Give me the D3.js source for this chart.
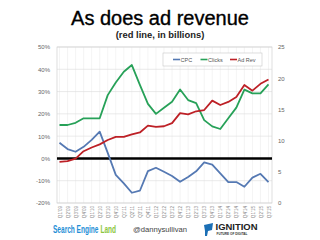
<!DOCTYPE html>
<html><head><meta charset="utf-8">
<script src="https://cdn.jsdelivr.net/npm/d3@7"></script>
<style>html,body{margin:0;padding:0;background:#fff;}svg{display:block;}</style>
</head><body>
<svg id="c" width="320" height="240"></svg>
<script>
const quarters = ["Q1'09","Q2'09","Q3'09","Q4'09","Q1'10","Q2'10","Q3'10","Q4'10","Q1'11","Q2'11","Q3'11","Q4'11","Q1'12","Q2'12","Q3'12","Q4'12","Q1'13","Q2'13","Q3'13","Q4'13","Q1'14","Q2'14","Q3'14","Q4'14","Q1'15","Q2'15","Q3'15"];
const cpc    = [7.0,4.2,3.0,5.2,8.3,12.0,2.5,-7.4,-11.2,-15.4,-14.5,-5.7,-4.2,-6.0,-7.9,-10.5,-8.3,-5.8,-1.8,-2.8,-6.7,-10.6,-10.6,-12.7,-8.6,-6.9,-10.6];
const clicks = [15.0,15.0,16.0,18.0,18.0,18.0,28.4,34.1,38.9,41.9,33.0,24.5,20.0,22.7,25.4,30.9,26.2,24.8,17.2,14.4,13.2,18.0,22.8,30.9,29.2,29.2,33.2];
const adRev  = [6.6,6.7,7.1,8.3,8.9,9.4,10.1,10.6,10.6,11.0,11.3,12.4,12.2,12.3,12.8,14.4,14.2,14.7,14.9,16.4,15.7,16.2,17.0,18.9,18.0,19.1,19.8];
const leftTicks = [50,40,30,20,10,0,-10,-20];
const rightTicks = [25,20,15,10,5,0];
const seriesNames = ["CPC","Clicks","Ad Rev"];
const seriesColors = ["#5579b3","#27a158","#bd2026"];

const svg = d3.select("#c");
const L = 57, R = 272, T = 47, B = 203;
const x = d3.scalePoint().domain(quarters).range([59.5, 268.5]);
const yL = d3.scaleLinear().domain([-20,50]).range([B,T]);
const yR = d3.scaleLinear().domain([0,25]).range([B,T]);

// title
svg.append("text").attr("x",160).attr("y",25).attr("text-anchor","middle")
  .attr("font-family","Liberation Sans, Arial, sans-serif").attr("font-size",20).attr("fill","#000")
  .attr("stroke","#000").attr("stroke-width",0.35)
  .text("As does ad revenue");
svg.append("text").attr("x",160).attr("y",38).attr("text-anchor","middle")
  .attr("font-family","Liberation Sans, Arial, sans-serif").attr("font-size",9.4).attr("font-weight","bold").attr("fill","#222")
  .text("(red line, in billions)");

// vertical grid
svg.append("g").selectAll("line").data(quarters).join("line")
  .attr("x1",d=>x(d)).attr("x2",d=>x(d)).attr("y1",T).attr("y2",B)
  .attr("stroke","#ececec").attr("stroke-width",0.6);
// horizontal grid
svg.append("g").selectAll("line").data(leftTicks).join("line")
  .attr("x1",L).attr("x2",R).attr("y1",d=>yL(d)).attr("y2",d=>yL(d))
  .attr("stroke","#dcdcdc").attr("stroke-width",0.6);
// border
svg.append("rect").attr("x",L).attr("y",T).attr("width",R-L).attr("height",B-T)
  .attr("fill","none").attr("stroke","#d0d0d0").attr("stroke-width",0.7);

// left axis
const gl = svg.append("g").attr("transform",`translate(${L},0)`)
  .call(d3.axisLeft(yL).tickValues(leftTicks).tickFormat(d=>d+"%").tickSize(0).tickPadding(7));
gl.select(".domain").remove();
gl.selectAll("text").attr("font-family","Liberation Sans, Arial, sans-serif").attr("font-size",6).attr("fill","#666");
// right axis
const gr = svg.append("g").attr("transform",`translate(${R},0)`)
  .call(d3.axisRight(yR).tickValues(rightTicks).tickSize(0).tickPadding(6));
gr.select(".domain").remove();
gr.selectAll("text").attr("font-family","Liberation Sans, Arial, sans-serif").attr("font-size",6).attr("fill","#666");
// x axis
const gx = svg.append("g").attr("transform",`translate(0,${B})`)
  .call(d3.axisBottom(x).tickSize(0).tickPadding(0));
gx.select(".domain").remove();
gx.selectAll("text").attr("font-family","Liberation Sans, Arial, sans-serif").attr("font-size",4.6).attr("fill","#888")
  .attr("text-anchor","end").attr("dy","0.35em").attr("transform","translate(0,3) rotate(-90)").attr("x",0).attr("y",0);

// zero line
svg.append("line").attr("x1",L).attr("x2",R).attr("y1",yL(0)).attr("y2",yL(0))
  .attr("stroke","#000").attr("stroke-width",2.4);

// series
const lineL = d3.line().x((d,i)=>x(quarters[i])).y(d=>yL(d));
const lineR = d3.line().x((d,i)=>x(quarters[i])).y(d=>yR(d));
svg.append("path").datum(cpc).attr("d",lineL).attr("fill","none").attr("stroke",seriesColors[0]).attr("stroke-width",1.8).attr("stroke-linejoin","round");
svg.append("path").datum(clicks).attr("d",lineL).attr("fill","none").attr("stroke",seriesColors[1]).attr("stroke-width",1.8).attr("stroke-linejoin","round");
svg.append("path").datum(adRev).attr("d",lineR).attr("fill","none").attr("stroke",seriesColors[2]).attr("stroke-width",1.8).attr("stroke-linejoin","round");

// legend
const lg = svg.append("g");
lg.append("rect").attr("x",163).attr("y",53).attr("width",99).attr("height",13).attr("fill","#fff").attr("stroke","#c8c8c8").attr("stroke-width",0.6);
const lx = [173,200.5,230];
seriesNames.forEach((n,i)=>{
  lg.append("line").attr("x1",lx[i]).attr("x2",lx[i]+7).attr("y1",59.5).attr("y2",59.5).attr("stroke",seriesColors[i]).attr("stroke-width",1.6);
  lg.append("text").attr("x",lx[i]+7.5).attr("y",61.5).attr("font-family","Liberation Sans, Arial, sans-serif").attr("font-size",5.5).attr("fill","#555").text(n);
});

// footer
const f = svg.append("g");
const sel = f.append("g").attr("transform","translate(53,233) scale(0.655,1)");
sel.append("text").attr("x",0).attr("y",0).attr("font-family","Liberation Sans, Arial, sans-serif")
  .attr("font-weight","bold").attr("font-size",10).attr("fill","#1f8fd6").text("Search Engine");
sel.append("text").attr("x",72.5).attr("y",0).attr("font-family","Liberation Sans, Arial, sans-serif")
  .attr("font-weight","bold").attr("font-size",10).attr("fill","#8cc63e").text("Land");
f.append("text").attr("x",133).attr("y",232).attr("font-family","Liberation Sans, Arial, sans-serif").attr("font-size",8).attr("fill","#444")
  .attr("textLength",54).attr("lengthAdjust","spacingAndGlyphs").text("@dannysullivan");
f.append("path").attr("d","M204,225 L213,223 L212,230 L208,231 L207,236 L205,236 L205,231 Z").attr("fill","#1b6fb5");
f.append("text").attr("x",215.5).attr("y",229.5).attr("font-family","Liberation Sans, Arial, sans-serif").attr("font-weight","bold").attr("font-size",8.5).attr("fill","#222")
  .attr("textLength",42).attr("lengthAdjust","spacingAndGlyphs").text("IGNITION");
f.append("text").attr("x",216.5).attr("y",234.5).attr("font-family","Liberation Sans, Arial, sans-serif").attr("font-weight","bold").attr("font-size",3.6).attr("fill","#333")
  .attr("textLength",31).attr("lengthAdjust","spacingAndGlyphs").text("FUTURE OF DIGITAL");
</script>
</body></html>
